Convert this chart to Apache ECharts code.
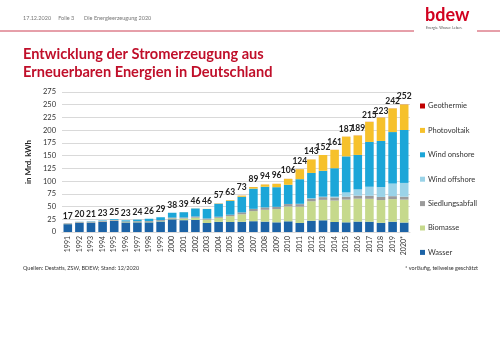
<!DOCTYPE html>
<html>
<head>
<meta charset="utf-8">
<script src="https://cdn.jsdelivr.net/npm/echarts@6/dist/echarts.min.js"></script>
<style>
  html, body { margin: 0; padding: 0; background: #fff; }
  #chart { width: 500px; height: 353px; }
</style>
</head>
<body>
<div id="chart"></div>
<script>
// Stromerzeugung aus Erneuerbaren in Mrd. kWh (BDEW, Stand 12/2020)
const years = ['1991', '1992', '1993', '1994', '1995', '1996', '1997', '1998', '1999', '2000',
  '2001', '2002', '2003', '2004', '2005', '2006', '2007', '2008', '2009', '2010',
  '2011', '2012', '2013', '2014', '2015', '2016', '2017', '2018', '2019', '2020*'];

const wasser = [15.4, 18.1, 18.5, 19.9, 21.6, 18.8, 19.0, 19.0, 20.7, 24.9,
  23.2, 23.7, 17.7, 19.9, 19.6, 20.0, 21.2, 20.4, 19.0, 21.0,
  17.7, 22.1, 23.0, 19.6, 19.0, 20.5, 20.2, 18.0, 20.2, 18.6];
const biomasse = [0.3, 0.4, 0.4, 0.5, 0.7, 0.8, 0.9, 0.9, 1.1, 1.6,
  3.3, 4.5, 6.6, 8.0, 11.4, 14.8, 19.8, 23.2, 26.0, 29.2,
  32.1, 38.3, 40.1, 42.2, 44.6, 45.0, 45.0, 44.7, 44.4, 45.0];
const siedlungsabfall = [1.2, 1.3, 1.4, 1.5, 1.3, 1.3, 1.4, 1.6, 1.7, 1.8,
  1.9, 2.2, 2.2, 2.1, 3.0, 3.7, 4.5, 4.7, 4.4, 4.7,
  5.0, 5.0, 5.4, 6.1, 5.8, 5.9, 6.0, 6.2, 5.8, 5.8];
const windOffshore = [0, 0, 0, 0, 0, 0, 0, 0, 0, 0,
  0, 0, 0, 0, 0, 0, 0, 0, 0.04, 0.2,
  0.6, 0.7, 0.9, 1.5, 8.3, 12.3, 17.7, 19.5, 24.7, 27.0];
const windOnshore = [0.1, 0.3, 0.6, 0.9, 1.5, 2.0, 3.0, 4.5, 5.5, 9.5,
  10.5, 15.8, 18.7, 25.5, 27.2, 30.7, 39.7, 40.6, 38.6, 37.6,
  48.3, 49.9, 50.8, 55.9, 70.9, 67.7, 88.0, 90.5, 101.2, 104.0];
const photovoltaik = [0, 0, 0, 0, 0, 0, 0, 0, 0, 0.06,
  0.1, 0.2, 0.3, 0.6, 1.3, 2.2, 3.1, 4.4, 6.6, 11.7,
  19.6, 26.4, 31.0, 36.1, 38.7, 38.1, 39.4, 45.8, 46.4, 50.0];
const geothermie = [0, 0, 0, 0, 0, 0, 0, 0, 0, 0,
  0, 0, 0, 0.1, 0.1, 0.1, 0.1, 0.1, 0.1, 0.1,
  0.1, 0.1, 0.1, 0.1, 0.1, 0.2, 0.2, 0.2, 0.2, 0.2];
const totals = [17, 20, 21, 23, 25, 23, 24, 26, 29, 38,
  39, 46, 46, 57, 63, 73, 89, 94, 96, 106,
  124, 143, 152, 161, 187, 189, 215, 223, 242, 252];

const FONT = 'Lato, "Open Sans", sans-serif';
const RED = '#c00f2a';

const stackSeries = [
  { name: 'Wasser', data: wasser, color: '#1c63a6' },
  { name: 'Biomasse', data: biomasse, color: '#c6d98c' },
  { name: 'Siedlungsabfall', data: siedlungsabfall, color: '#9b9b9b' },
  { name: 'Wind offshore', data: windOffshore, color: '#9ad3e8' },
  { name: 'Wind onshore', data: windOnshore, color: '#1ca6d8' },
  { name: 'Photovoltaik', data: photovoltaik, color: '#f6c12b' },
  { name: 'Geothermie', data: geothermie, color: '#c00000' }
].map(s => ({
  type: 'bar',
  name: s.name,
  stack: 'ee',
  data: s.data,
  barCategoryGap: '26%',
  itemStyle: { color: s.color },
  emphasis: { disabled: true }
}));

// unsichtbare Balken nur für die Summenbeschriftung
const totalSeries = {
  type: 'bar',
  name: 'Summe',
  data: totals,
  barGap: '-100%',
  itemStyle: { color: 'rgba(0,0,0,0)' },
  label: {
    show: true,
    position: 'top',
    distance: 3,
    fontFamily: FONT,
    fontWeight: 'bold',
    fontSize: 8.5,
    color: '#222'
  },
  silent: true,
  z: 5
};

const chart = echarts.init(document.getElementById('chart'));
chart.setOption({
  animation: false,
  backgroundColor: '#fff',
  grid: { left: 62, right: 90, top: 92, bottom: 121 },
  legend: {
    orient: 'vertical',
    left: 415,
    top: 97,
    itemWidth: 5,
    itemHeight: 5,
    itemGap: 16.4,
    icon: 'rect',
    selectedMode: false,
    data: ['Geothermie', 'Photovoltaik', 'Wind onshore', 'Wind offshore', 'Siedlungsabfall', 'Biomasse', 'Wasser'],
    textStyle: { fontFamily: FONT, fontSize: 7.5, color: '#333', padding: [0, 0, 0, -2] }
  },
  xAxis: {
    type: 'category',
    data: years,
    axisLine: { lineStyle: { color: '#d9d9d9' } },
    axisTick: { show: false },
    axisLabel: { rotate: 90, interval: 0, fontFamily: FONT, fontSize: 7, color: '#333', margin: 4 }
  },
  yAxis: {
    type: 'value',
    min: 0,
    max: 275,
    interval: 25,
    name: 'in Mrd. kWh',
    nameLocation: 'middle',
    nameRotate: 90,
    nameGap: 24,
    nameTextStyle: { fontFamily: FONT, fontWeight: 'bold', fontSize: 8, color: '#222' },
    axisLine: { show: false },
    axisTick: { show: false },
    axisLabel: { fontFamily: FONT, fontSize: 7.5, color: '#333', margin: 6 },
    splitLine: { lineStyle: { color: '#d9d9d9', width: 1 } }
  },
  series: [...stackSeries, totalSeries],
  graphic: [
    { type: 'text', left: 23, top: 15, style: { text: '17.12.2020     Folie 3       Die Energieerzeugung 2020', font: '5.5px ' + FONT, fill: '#777' } },
    { type: 'line', shape: { x1: 0, y1: 31, x2: 414, y2: 31 }, style: { stroke: RED, lineWidth: 0.8 } },
    { type: 'line', shape: { x1: 477, y1: 31, x2: 500, y2: 31 }, style: { stroke: RED, lineWidth: 0.8 } },
    { type: 'text', left: 425, top: 6, style: { text: 'bdew', font: 'bold 18px ' + FONT, fill: '#d1001f' } },
    { type: 'text', left: 426, top: 26, style: { text: 'Energie. Wasser. Leben.', font: '3.5px ' + FONT, fill: '#555' } },
    { type: 'text', left: 23, top: 47, style: { text: 'Entwicklung der Stromerzeugung aus', font: 'bold 14.6px ' + FONT, fill: RED } },
    { type: 'text', left: 23, top: 65, style: { text: 'Erneuerbaren Energien in Deutschland', font: 'bold 14.6px ' + FONT, fill: RED } },
    { type: 'text', left: 23, top: 265, style: { text: 'Quellen: Destatis, ZSW, BDEW; Stand: 12/2020', font: '5.5px ' + FONT, fill: '#333' } },
    { type: 'text', right: 22, top: 265, style: { text: '* vorläufig, teilweise geschätzt', font: '5.5px ' + FONT, fill: '#333' } }
  ]
});
</script>
</body>
</html>
